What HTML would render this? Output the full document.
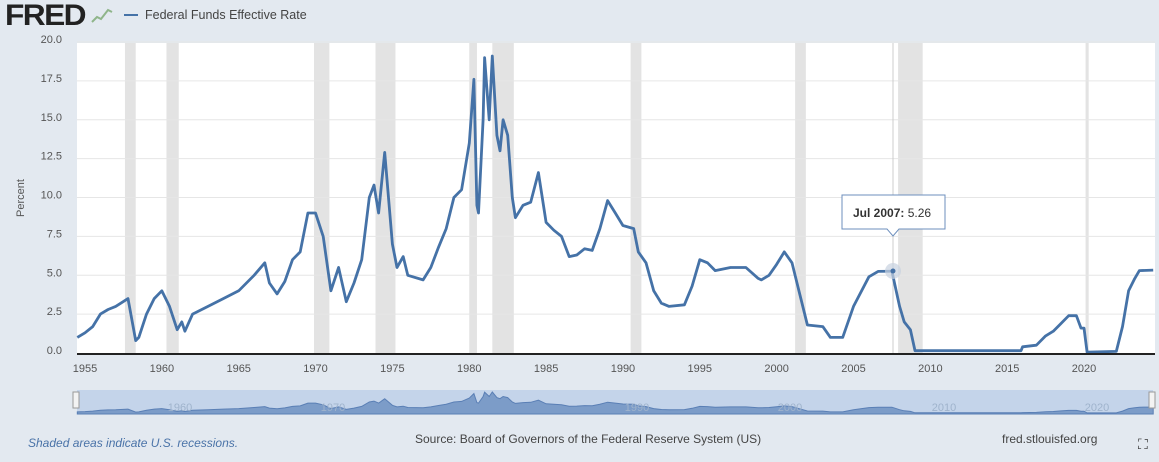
<!DOCTYPE html>
<html><head><meta charset="utf-8"><style>
body{margin:0;width:1159px;height:457px;background:#e3e9f0;font-family:"Liberation Sans",sans-serif;overflow:hidden}
</style></head><body>
<svg id="s" width="1159" height="457" xmlns="http://www.w3.org/2000/svg" font-family="Liberation Sans, sans-serif">
<rect width="1159" height="457" fill="#e3e9f0"/>
<text x="5" y="25" font-size="30" font-weight="bold" fill="#222" letter-spacing="-1.5" textLength="80" lengthAdjust="spacingAndGlyphs">FRED</text>
<polyline points="92,22 97,17 101,19 108,10 112,12" fill="none" stroke="#8fb58a" stroke-width="2"/>
<line x1="124" y1="15" x2="138" y2="15" stroke="#4572a7" stroke-width="2"/>
<text x="145" y="19" font-size="12.5" fill="#444">Federal Funds Effective Rate</text>
<rect x="77" y="43" width="1078" height="311" fill="#fff"/>
<g id="rec" fill="#e3e3e3"></g>
<g id="grid" stroke="#e6e6e6" stroke-width="1"></g>
<g id="yl" font-size="11" fill="#555" text-anchor="end"></g>
<g id="xl" font-size="11" fill="#555" text-anchor="middle"></g>
<text x="24" y="198" font-size="11" fill="#555" transform="rotate(-90 24 198)" text-anchor="middle">Percent</text>
<line x1="893" y1="43" x2="893" y2="354" stroke="#ccc" stroke-width="1"/>
<polyline id="ln" fill="none" stroke="#4572a7" stroke-width="2.8" stroke-linejoin="round"/>
<line x1="77" y1="354" x2="1155" y2="354" stroke="#222" stroke-width="2"/>
<circle cx="893" cy="271" r="8" fill="#c8d2e0" opacity="0.7"/>
<circle cx="893" cy="271" r="2.5" fill="#4572a7"/>
<path d="M842,195 H945 V229 H899 L893,236 L887,229 H842 Z" fill="#fff" stroke="#6d8fbd" stroke-width="1"/>
<text x="853" y="217" font-size="12" fill="#333"><tspan font-weight="bold">Jul 2007:</tspan> 5.26</text>
<rect x="77" y="390" width="1076" height="24" fill="#c4d4ea"/>
<path id="nav" fill="#7c9cc8" stroke="#5a7fb5" stroke-width="1"/>
<g font-size="11" fill="#9fb3cc" text-anchor="middle"><text x="180" y="411">1960</text><text x="333" y="411">1970</text><text x="637" y="411">1990</text><text x="790" y="411">2000</text><text x="944" y="411">2010</text><text x="1097" y="411">2020</text></g>
<rect x="73" y="392" width="6" height="16" fill="#f3f3f3" stroke="#999"/>
<rect x="1149" y="392" width="6" height="16" fill="#f3f3f3" stroke="#999"/>
<text x="28" y="447" font-size="12" font-style="italic" fill="#4a73a8">Shaded areas indicate U.S. recessions.</text>
<text x="415" y="443" font-size="12" fill="#444">Source: Board of Governors of the Federal Reserve System (US)</text>
<text x="1002" y="443" font-size="12" fill="#444">fred.stlouisfed.org</text>
<text x="1138" y="449" font-size="14" fill="#333">⛶</text>
</svg>
<script>
var X=function(y){return 85+(y-1955)*15.37},Y=function(v){return 353-v*15.55};
var ns="http://www.w3.org/2000/svg";
function el(p,t,a,txt){var e=document.createElementNS(ns,t);for(var k in a)e.setAttribute(k,a[k]);if(txt)e.textContent=txt;document.getElementById(p).appendChild(e);}
[[1957.6,1958.3],[1960.3,1961.1],[1969.9,1970.9],[1973.9,1975.2],[1980.0,1980.5],[1981.5,1982.9],[1990.5,1991.2],[2001.2,2001.9],[2007.9,2009.5],[2020.1,2020.3]].forEach(function(r){el("rec","rect",{x:X(r[0]),y:43,width:X(r[1])-X(r[0]),height:311});});
for(var i=1;i<=8;i++){var v=i*2.5;el("grid","line",{x1:77,x2:1155,y1:Y(v),y2:Y(v)});}
for(var i=0;i<=8;i++){var v=i*2.5;el("yl","text",{x:62,y:Y(v)+1},v.toFixed(1));}
for(var y=1955;y<=2020;y+=5)el("xl","text",{x:X(y),y:372},y);
var d=[1954.5,1.0,1955,1.3,1955.5,1.7,1956,2.5,1956.5,2.8,1957,3.0,1957.8,3.5,1958.3,0.8,1958.5,1.0,1959,2.5,1959.5,3.5,1960,4.0,1960.5,3.0,1961,1.5,1961.3,2.0,1961.5,1.4,1962,2.5,1963,3.0,1964,3.5,1965,4.0,1966,5.0,1966.7,5.8,1967,4.5,1967.5,3.8,1968,4.6,1968.5,6.0,1969,6.5,1969.5,9.0,1970,9.0,1970.5,7.5,1971,4.0,1971.5,5.5,1972,3.3,1972.5,4.5,1973,6.0,1973.5,10.0,1973.8,10.8,1974.1,9.0,1974.5,12.9,1975,7.0,1975.3,5.5,1975.7,6.2,1976,5.0,1977,4.7,1977.5,5.5,1978,6.8,1978.5,8.0,1979,10.0,1979.5,10.5,1980,13.5,1980.3,17.6,1980.5,9.5,1980.6,9.0,1980.9,15,1981,19.0,1981.3,15.0,1981.5,19.1,1981.8,14.0,1982,13.0,1982.2,15.0,1982.5,14.0,1982.8,10.0,1983,8.7,1983.5,9.5,1984,9.7,1984.5,11.6,1985,8.4,1985.5,7.9,1986,7.5,1986.5,6.2,1987,6.3,1987.5,6.7,1988,6.6,1988.5,8.0,1989,9.8,1989.5,9.0,1990,8.2,1990.7,8.0,1991,6.5,1991.5,5.8,1992,4.0,1992.5,3.2,1993,3.0,1994,3.1,1994.5,4.3,1995,6.0,1995.5,5.8,1996,5.3,1997,5.5,1998,5.5,1998.8,4.8,1999,4.7,1999.5,5.0,2000,5.7,2000.5,6.5,2001,5.8,2001.5,3.8,2002,1.8,2003,1.7,2003.5,1.0,2004.3,1.0,2005,3.0,2006,4.9,2006.6,5.25,2007.5,5.26,2008,3.0,2008.3,2.0,2008.7,1.5,2009,0.15,2015.9,0.15,2016,0.4,2016.9,0.5,2017.5,1.1,2018,1.4,2018.5,1.9,2019,2.4,2019.5,2.4,2019.8,1.6,2020,1.6,2020.2,0.05,2022.1,0.1,2022.5,1.7,2022.9,4.0,2023.3,4.8,2023.6,5.3,2024.5,5.33];
var p=[],n=["M",X(1954.5),414];
for(var i=0;i<d.length;i+=2){p.push(X(d[i]).toFixed(1)+","+Y(d[i+1]).toFixed(1));n.push("L",X(d[i]).toFixed(1),(413-d[i+1]*1.1).toFixed(1));}
n.push("L",X(2024.5),414,"Z");
document.getElementById("ln").setAttribute("points",p.join(" "));
document.getElementById("nav").setAttribute("d",n.join(" "));
</script>
</body></html>
